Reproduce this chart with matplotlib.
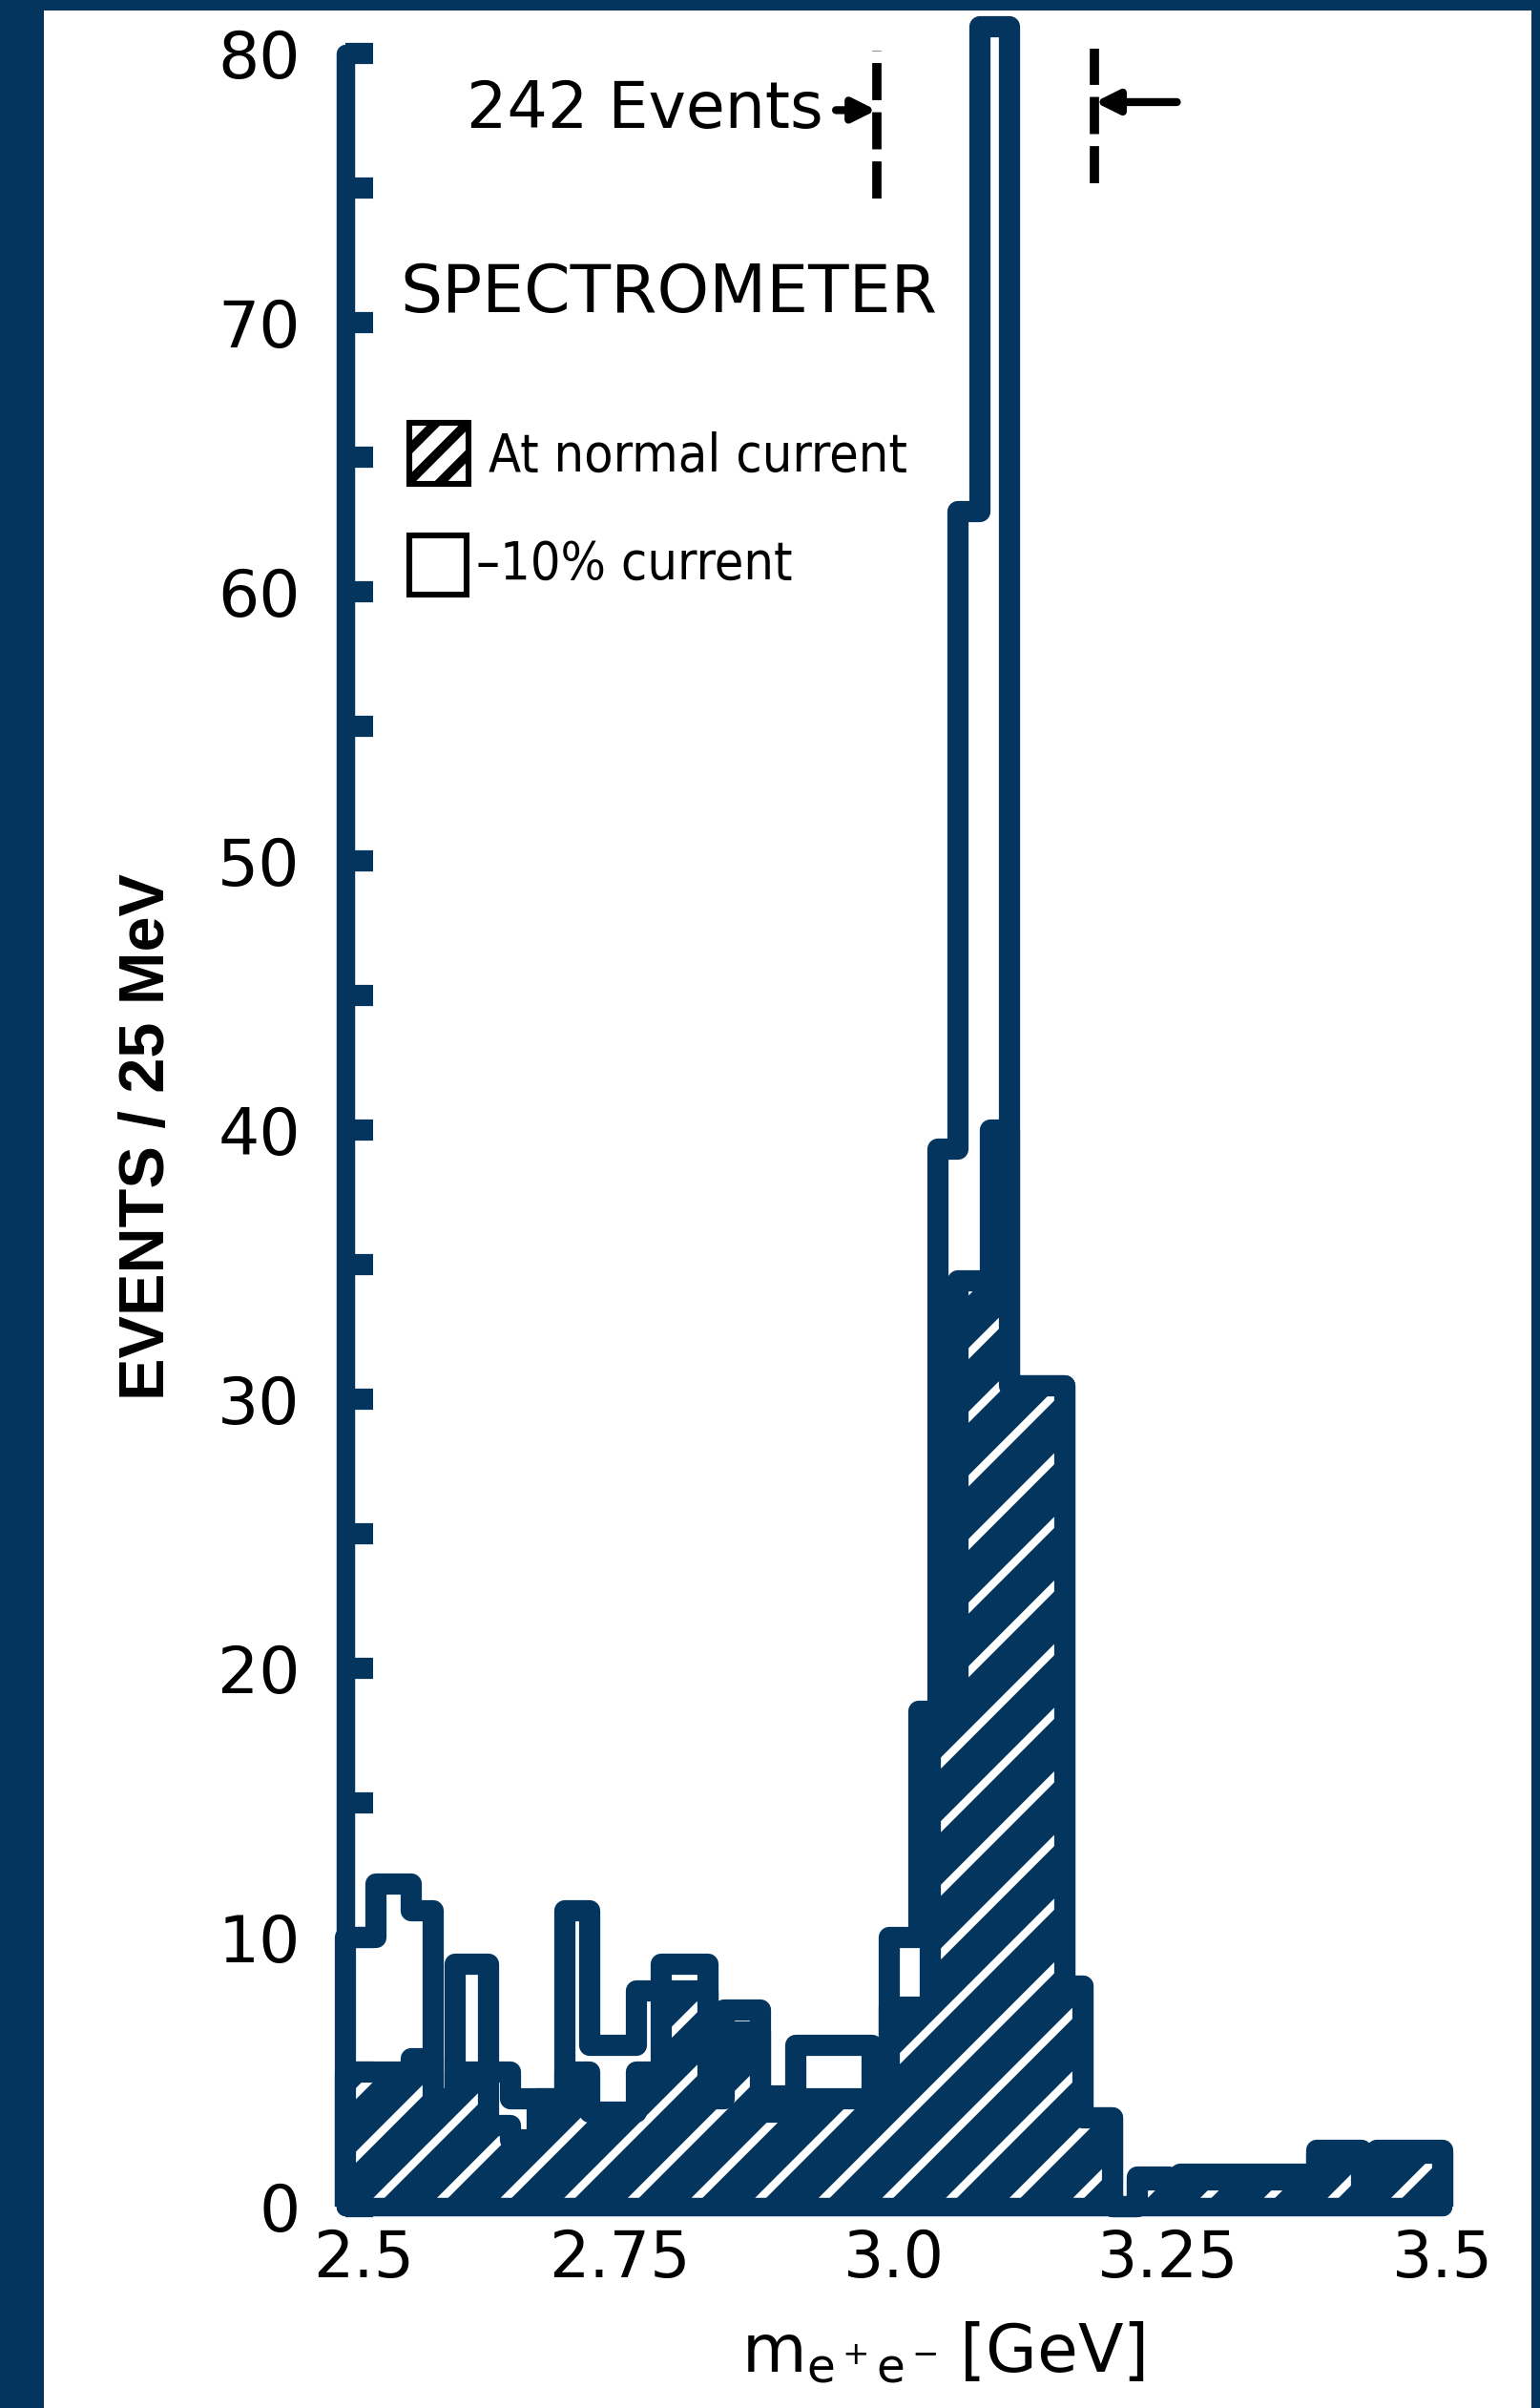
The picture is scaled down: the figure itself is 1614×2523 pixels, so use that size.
import matplotlib
matplotlib.use('Agg')
from matplotlib import pyplot as plt
from matplotlib.patches import Rectangle
import matplotlib.transforms as mtransforms

NAVY = '#03355f'

# bin edges in GeV (the bins round the peak are drawn narrower)
edges = [2.500, 2.528, 2.560, 2.580, 2.600, 2.630, 2.650, 2.675, 2.700, 2.723,
         2.765, 2.788, 2.830, 2.845, 2.878, 2.910, 2.980, 2.996, 3.023, 3.033,
         3.040, 3.058, 3.078, 3.088, 3.105, 3.156, 3.172, 3.199, 3.222, 3.250,
         3.261, 3.385, 3.426, 3.440, 3.500]

# -10% current (open histogram)
low_current = [10, 12, 11, 4, 9, 5, 4, 4, 11, 6,
               8, 9, 4, 7.3, 4.1, 6, 5, 10, 18.4, 18.4,
               39.3, 63, 81, 81, 30.5, 8.2, 3.3, 0, 1.1, 0.4,
               1.2, 2.1, 0.4, 2.1]

# at normal current (hatched histogram)
normal_current = [5, 5, 5.5, 4, 5, 3, 2.5, 4, 5, 3.5,
                  5, 8, 4, 6.5, 3.5, 4, 5, 7.4, 7.4, 18,
                  18, 34.4, 34.4, 40, 30.5, 8.2, 3.3, 0, 1, 0.3,
                  1, 2, 0.3, 2]

xticks = [2.5, 2.75, 3.0, 3.25, 3.5]
xtick_labels = ['2.5', '2.75', '3.0', '3.25', '3.5']
yticks = list(range(0, 81, 10))
yticks_minor = list(range(5, 80, 10))

# mass window holding the 242 events
window = [2.984, 3.183]

plt.rcParams['hatch.linewidth'] = 14

fig = plt.figure(figsize=(8.075, 12.615), dpi=200, facecolor=NAVY)
# white sheet inside the navy frame
fig.add_artist(Rectangle((46 / 1615, 0), (1605 - 46) / 1615, 1 - 11 / 2523,
                         transform=fig.transFigure, facecolor='white',
                         edgecolor='none', zorder=-10))

ax = fig.add_axes([0.22415, 0.08363, 0.72632, 0.90527])
ax.set_facecolor('none')

ax.stairs(low_current, edges, color=NAVY, linewidth=8, joinstyle='round',
          clip_on=False, zorder=2)
ax.stairs(normal_current, edges, fill=True, facecolor='white', edgecolor=NAVY,
          hatch='/', linewidth=8, joinstyle='round', clip_on=False, zorder=3)

ax.set_xlim(2.5, 3.52)
ax.set_ylim(0, 81)

for s in ['top', 'right']:
    ax.spines[s].set_visible(False)
ax.spines['left'].set_bounds(0, 80)
ax.spines['bottom'].set_bounds(2.5, 3.5)
for s in ['left', 'bottom']:
    ax.spines[s].set_linewidth(7)
    ax.spines[s].set_color(NAVY)
    ax.spines[s].set_capstyle('round')
    ax.spines[s].set_zorder(4)

ax.set_xticks(xticks, xtick_labels)
ax.set_yticks(yticks)
ax.set_yticks(yticks_minor, minor=True)
ax.tick_params(axis='y', which='both', direction='in', length=10.5, width=8,
               color=NAVY, pad=17, labelsize=24.5)
ax.tick_params(axis='x', which='both', length=0, pad=8, labelsize=24)

# the 2.5 label sits a bit to the right of the corner
lab = ax.xaxis.get_major_ticks()[0].label1
lab.set_transform(lab.get_transform() +
                  mtransforms.ScaledTranslation(0.095, 0, fig.dpi_scale_trans))

ax.set_xlabel(r'$\mathregular{m_{e^+e^-}\,[GeV]}$', fontsize=25)
ax.xaxis.set_label_coords(0.5345, -0.052)
ax.set_ylabel('EVENTS / 25 MeV', fontsize=24, fontweight='bold',
              family=['Liberation Sans', 'DejaVu Sans'])
ax.yaxis.set_label_coords(-0.150, 0.491)

# legend drawn by hand like the original
ax.text(2.550, 71.1, 'SPECTROMETER', fontsize=25, ha='left', va='center')
box1 = Rectangle((2.558, 64.0), 0.054, 2.3, facecolor='white', edgecolor='black',
                 hatch='//', linewidth=2.2, zorder=5)
if hasattr(box1, 'set_hatch_linewidth'):
    box1.set_hatch_linewidth(3.5)
ax.add_patch(box1)
box2 = Rectangle((2.558, 59.9), 0.052, 2.2, facecolor='white', edgecolor='black',
                 linewidth=2.2, zorder=5)
ax.add_patch(box2)
ax.text(2.630, 65.0, 'At normal current', fontsize=20, stretch='condensed',
        ha='left', va='center')
ax.text(2.619, 61.0, '\u2013' + '10% current', fontsize=20, stretch='condensed',
        ha='left', va='center')

# 242 events window
dash = (0, (4, 1.3))
ax.plot([window[0], window[0]], [74.6, 80.1], color='black', lw=3.5, ls=dash,
        clip_on=False)
ax.plot([window[1], window[1]], [75.2, 80.2], color='black', lw=3.5, ls=dash,
        clip_on=False)
arrow = dict(arrowstyle='-|>', color='black', lw=3, mutation_scale=18,
             shrinkA=3, shrinkB=0)
ax.annotate('242 Events', xy=(window[0], 77.9), xytext=(2.935, 77.9),
            ha='right', va='center', fontsize=24, arrowprops=arrow)
ax.annotate('', xy=(window[1], 78.2), xytext=(3.265, 78.2), arrowprops=arrow)

fig.savefig('out.png', dpi=200, facecolor=NAVY)
